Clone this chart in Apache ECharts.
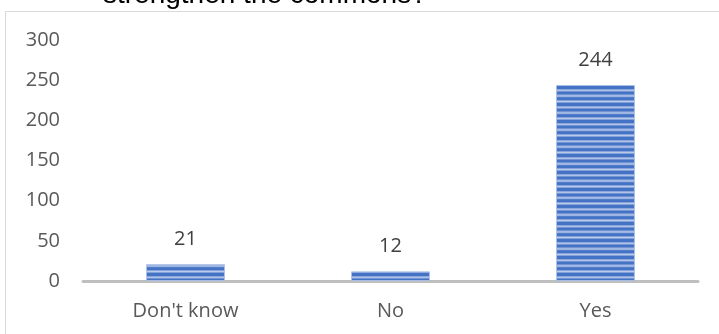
<!DOCTYPE html>
<html>
<head>
<meta charset="utf-8">
<script src="https://cdn.jsdelivr.net/npm/echarts@6/dist/echarts.min.js"></script>
<style>
html,body{margin:0;padding:0;background:#fff;}
#chart{width:719px;height:334px;}
</style>
</head>
<body>
<div id="chart"></div>
<script>
const titleText = "strengthen the commons?";
const categories = ["Don't know", "No", "Yes"];
const values = [21, 12, 244];
const yMin = 0, yMax = 300, yStep = 50;

function stripePattern() {
  const c = document.createElement('canvas');
  c.width = 4; c.height = 17;
  const ctx = c.getContext('2d');
  ctx.fillStyle = '#c3d1ee';
  ctx.fillRect(0, 0, 4, 17);
  const period = 17 / 3;
  for (let i = 0; i < 3; i++) {
    const y = i * period;
    ctx.fillStyle = '#8aa6dc';
    ctx.fillRect(0, y, 4, 0.8);
    ctx.fillStyle = '#4472c4';
    ctx.fillRect(0, y + 0.8, 4, 3.2);
    ctx.fillStyle = '#7e9dd9';
    ctx.fillRect(0, y + 4.0, 4, 0.8);
  }
  return c;
}

const chart = echarts.init(document.getElementById('chart'), null, {renderer: 'canvas'});
const font = '"Open Sans", "Noto Sans", sans-serif';
chart.setOption({
  animation: false,
  backgroundColor: '#fff',
  grid: {left: 83, right: 21, top: 40, bottom: 53, containLabel: false},
  graphic: [
    {type: 'rect', shape: {x: 5.5, y: 11.5, width: 900, height: 500},
     style: {fill: 'none', stroke: '#d9d9d9', lineWidth: 1}, silent: true},
    {type: 'text', x: 103, y: -5,
     style: {text: titleText, font: '28px "Liberation Sans", Arial, sans-serif', fill: '#000',
             verticalAlign: 'middle', align: 'left'}}
  ],
  xAxis: {
    type: 'category',
    data: categories,
    axisTick: {show: false},
    axisLine: {lineStyle: {color: '#bfbfbf', width: 3}},
    axisLabel: {color: '#595959', fontSize: 20, fontFamily: font, margin: 20}
  },
  yAxis: {
    type: 'value',
    min: yMin, max: yMax, interval: yStep,
    splitLine: {show: false},
    axisLine: {show: false},
    axisTick: {show: false},
    axisLabel: {color: '#595959', fontSize: 20, fontFamily: font, margin: 23}
  },
  series: [{
    type: 'bar',
    data: values,
    barWidth: '38.5%',
    itemStyle: {
      color: {image: stripePattern(), repeat: 'repeat'},
      borderColor: 'rgba(170,192,232,0.9)',
      borderWidth: 1
    },
    label: {
      show: true, position: 'top', distance: 15,
      color: '#404040', fontSize: 20, fontFamily: font
    }
  }]
});
</script>
</body>
</html>
